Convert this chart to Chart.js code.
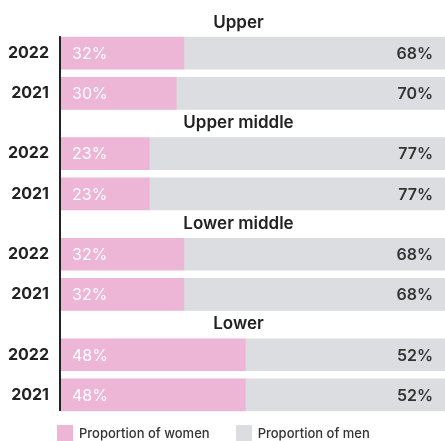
<!DOCTYPE html>
<html>
<head>
<meta charset="utf-8">
<script src="https://cdn.jsdelivr.net/npm/chart.js@4.4.1/dist/chart.umd.min.js"></script>
<style>
  body { margin: 0; background: #fff; }
  #wrap { position: relative; width: 445px; height: 441px; overflow: hidden; }
  #legend { position: absolute; left: 57px; top: 425px; display: flex; align-items: center; font: 500 13px Inter, sans-serif; color: #333; }
  #legend .item { display: flex; align-items: center; margin-right: 26px; }
  #legend .box { width: 16px; height: 16px; margin-right: 6px; }
</style>
</head>
<body>
<div id="wrap">
  <canvas id="chart" width="445" height="441"></canvas>
  <div id="legend"></div>
</div>
<script>
const groups = ['Upper', 'Upper middle', 'Lower middle', 'Lower'];
const years = ['2022', '2021'];
const women = [[32, 30], [23, 23], [32, 32], [48, 48]];
const men = [[68, 70], [77, 77], [68, 68], [52, 52]];
const seriesNames = ['Proportion of women', 'Proportion of men'];
const colors = ['#edb5d6', '#dcdde0'];

// each group: spacer (title), year, spacer, year, spacer
const labels = [];
const womenData = [];
const menData = [];
const firstRow = [];
groups.forEach((g, gi) => {
  labels.push(''); womenData.push(null); menData.push(null);
  years.forEach((yr, yi) => {
    if (yi > 0) { labels.push(''); womenData.push(null); menData.push(null); }
    if (yi === 0) firstRow.push(labels.length);
    labels.push(yr);
    womenData.push(women[gi][yi]);
    menData.push(men[gi][yi]);
  });
  if (gi < groups.length - 1) { labels.push(''); womenData.push(null); menData.push(null); }
});

const FONT = 'Inter, sans-serif';

const axisLine = {
  id: 'axisLine',
  afterDatasetsDraw(chart) {
    const els = chart.getDatasetMeta(0).data.filter((el, i) => womenData[i] != null);
    const top = Math.min(...els.map(el => el.y - el.height / 2));
    const bottom = Math.max(...els.map(el => el.y + el.height / 2));
    const ctx = chart.ctx;
    ctx.save();
    ctx.fillStyle = '#222';
    ctx.fillRect(chart.chartArea.left - 2, top - 1, 2, bottom - top + 1);
    ctx.restore();
  }
};

const valueLabels = {
  id: 'valueLabels',
  afterDatasetsDraw(chart) {
    const ctx = chart.ctx;
    ctx.save();
    ctx.textBaseline = 'middle';
    chart.getDatasetMeta(0).data.forEach((el, i) => {
      if (womenData[i] == null) return;
      ctx.font = '400 16px ' + FONT;
      ctx.fillStyle = '#fff';
      ctx.textAlign = 'left';
      ctx.fillText(womenData[i] + '%', el.base + 11, el.y + 1);
    });
    chart.getDatasetMeta(1).data.forEach((el, i) => {
      if (menData[i] == null) return;
      ctx.font = '600 16px ' + FONT;
      ctx.fillStyle = '#333';
      ctx.textAlign = 'right';
      ctx.fillText(menData[i] + '%', chart.chartArea.right - 12, el.y + 1);
    });
    ctx.restore();
  }
};

const groupTitles = {
  id: 'groupTitles',
  afterDraw(chart) {
    const ctx = chart.ctx;
    const meta = chart.getDatasetMeta(0);
    ctx.save();
    ctx.font = '600 17px ' + FONT;
    ctx.fillStyle = '#222';
    ctx.textAlign = 'center';
    ctx.textBaseline = 'alphabetic';
    groups.forEach((g, gi) => {
      const el = meta.data[firstRow[gi]];
      ctx.fillText(g, chart.width / 2 + 16, el.y - el.height / 2 - 9.5);
    });
    ctx.restore();
  }
};

new Chart(document.getElementById('chart').getContext('2d'), {
  type: 'bar',
  data: {
    labels,
    datasets: [
      {label: seriesNames[0], data: womenData, backgroundColor: colors[0], barThickness: 32, clip: false},
      {label: seriesNames[1], data: menData, backgroundColor: colors[1], barThickness: 32, clip: false},
    ]
  },
  options: {
    indexAxis: 'y',
    responsive: false,
    animation: false,
    layout: {padding: {top: 23, bottom: 36, left: 0, right: 0}},
    plugins: {legend: {display: false}, tooltip: {enabled: false}},
    scales: {
      x: {stacked: true, min: 0, max: 100, display: false},
      y: {
        stacked: true,
        grid: {display: false, drawTicks: false},
        border: {display: false},
        ticks: {autoSkip: false, color: '#222', padding: 12, font: {family: FONT, size: 16, weight: '700'}},
        afterFit(scale) { scale.width = 61; }
      }
    }
  },
  plugins: [axisLine, valueLabels, groupTitles]
});

const legend = document.getElementById('legend');
seriesNames.forEach((name, i) => {
  const item = document.createElement('div');
  item.className = 'item';
  item.innerHTML = '<span class="box" style="background:' + colors[i] + '"></span><span>' + name + '</span>';
  legend.appendChild(item);
});
</script>
</body>
</html>
